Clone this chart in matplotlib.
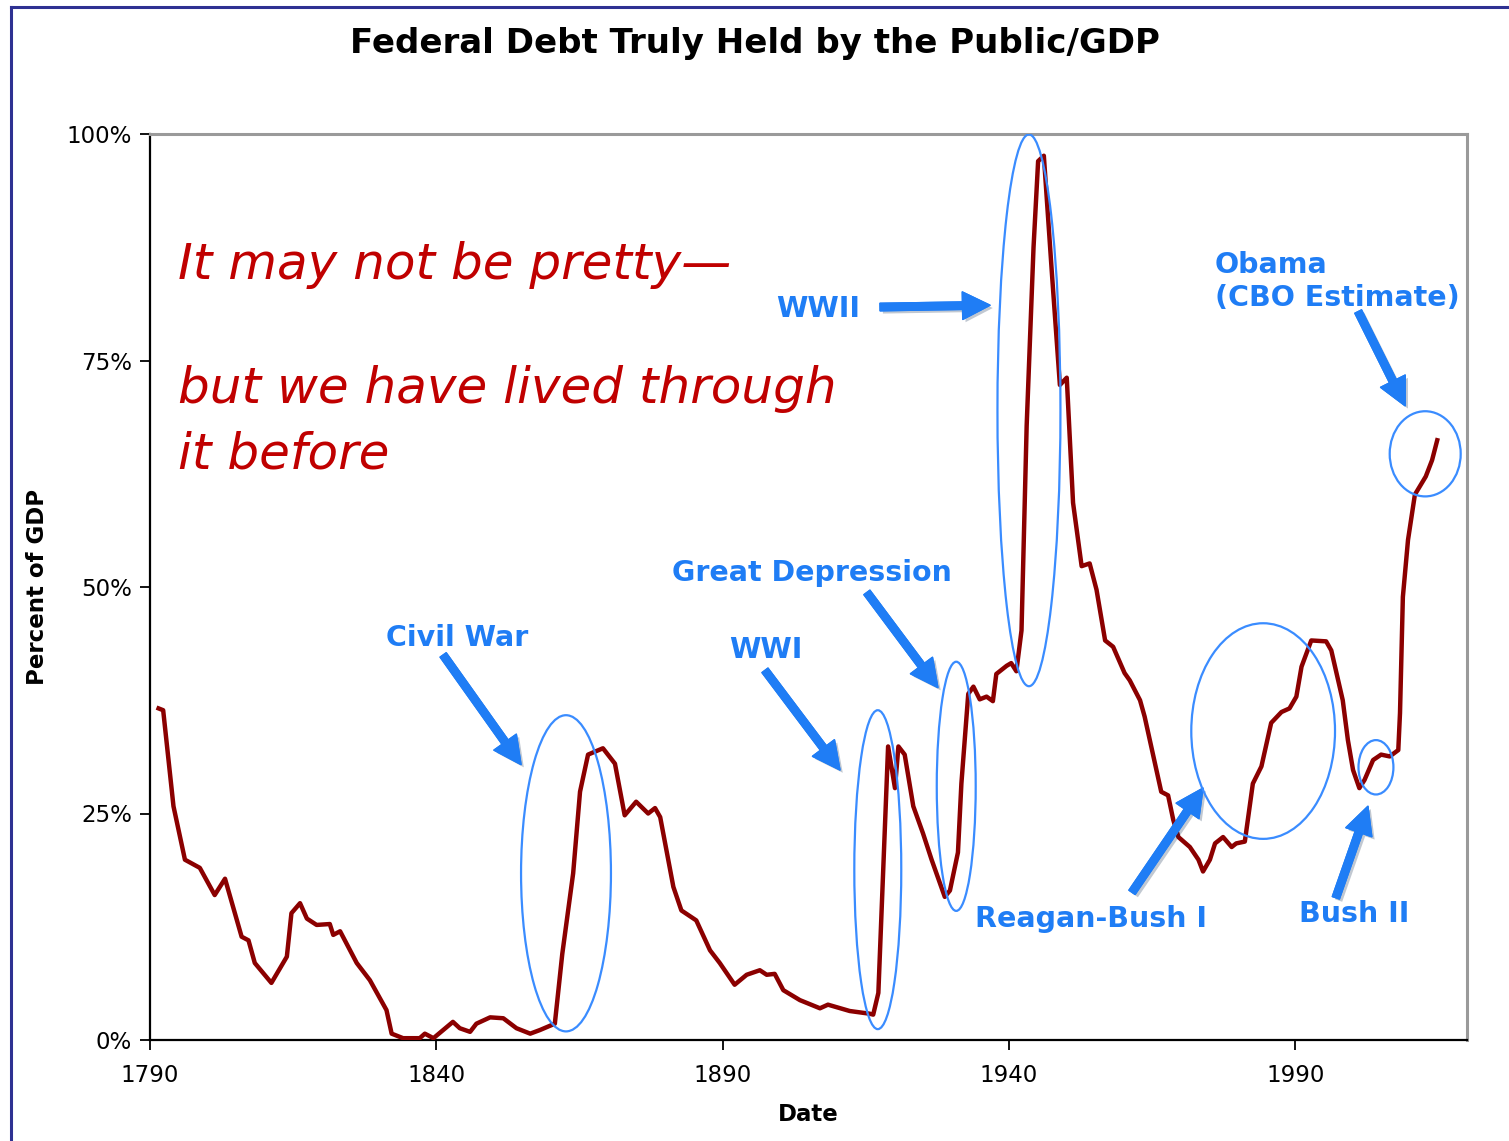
import matplotlib
matplotlib.use("Agg")
import matplotlib.pyplot as plt
import matplotlib.patheffects as pe
from matplotlib.patches import Ellipse
from matplotlib.lines import Line2D

# debt held by the public as % of GDP
years = [
    1791.5, 1792.3, 1794.1, 1796.1, 1798.7, 1801.3, 1803.1, 1806.0, 1807.2, 1808.3,
    1811.2, 1813.9, 1814.7, 1816.2, 1817.4, 1819.1, 1821.4, 1822.0, 1823.2, 1826.1,
    1828.4, 1831.3, 1832.2, 1834.2, 1837.1, 1838.0, 1839.5, 1842.9, 1844.1, 1845.9,
    1847.0, 1849.4, 1851.7, 1854.0, 1856.4, 1858.1, 1860.7, 1862.0, 1863.9, 1865.1,
    1866.5, 1869.1, 1871.2, 1872.9, 1874.9, 1877.0, 1878.2, 1879.1, 1881.4, 1882.8,
    1885.4, 1887.8, 1889.5, 1892.1, 1894.2, 1896.5, 1897.7, 1899.1, 1900.6, 1903.5,
    1907.0, 1908.4, 1912.2, 1915.7, 1916.3, 1917.2, 1918.9, 1920.1, 1920.7, 1921.8,
    1923.3, 1925.0, 1926.5, 1928.8, 1929.7, 1931.1, 1931.7, 1932.9, 1933.8, 1934.9,
    1936.1, 1937.2, 1937.8, 1939.6, 1940.4, 1941.3, 1942.2, 1943.1, 1944.3, 1945.1,
    1946.1, 1947.5, 1948.9, 1950.1, 1951.2, 1952.7, 1954.1, 1955.3, 1956.8, 1958.2,
    1960.2, 1961.1, 1962.9, 1963.7, 1966.6, 1967.8, 1968.7, 1969.6, 1971.6, 1973.1,
    1973.9, 1975.1, 1976.0, 1977.4, 1978.9, 1979.7, 1981.2, 1982.6, 1984.1, 1985.8,
    1987.6, 1989.0, 1990.2, 1991.1, 1992.8, 1995.4, 1996.3, 1998.3, 1999.2, 2000.1,
    2001.2, 2002.1, 2003.6, 2005.0, 2006.5, 2008.0, 2008.3, 2008.8, 2009.7, 2010.9,
    2012.8, 2013.9, 2014.8,
]
debt_pct = [
    36.6, 36.4, 25.8, 19.9, 19.0, 16.0, 17.8, 11.4, 11.0, 8.5,
    6.3, 9.2, 14.0, 15.1, 13.4, 12.7, 12.8, 11.6, 12.0, 8.5,
    6.6, 3.3, 0.7, 0.2, 0.2, 0.7, 0.2, 2.0, 1.3, 0.9,
    1.8, 2.5, 2.4, 1.3, 0.7, 1.1, 1.8, 9.5, 18.4, 27.4,
    31.5, 32.2, 30.5, 24.8, 26.3, 25.0, 25.6, 24.6, 16.9, 14.3,
    13.2, 9.9, 8.5, 6.1, 7.2, 7.7, 7.2, 7.3, 5.5, 4.4,
    3.5, 3.9, 3.2, 2.9, 2.8, 5.2, 32.4, 27.8, 32.4, 31.5,
    25.8, 22.8, 19.9, 15.8, 16.5, 20.7, 28.3, 38.2, 39.0, 37.6,
    37.9, 37.4, 40.4, 41.3, 41.6, 40.7, 45.2, 67.8, 87.5, 97.0,
    97.6, 84.7, 72.3, 73.1, 59.3, 52.3, 52.6, 49.7, 44.1, 43.4,
    40.5, 39.7, 37.5, 35.7, 27.4, 27.0, 24.3, 22.4, 21.3, 19.9,
    18.6, 19.9, 21.7, 22.4, 21.3, 21.7, 21.9, 28.3, 30.2, 35.0,
    36.2, 36.6, 37.9, 41.2, 44.1, 44.0, 43.0, 37.5, 33.1, 29.8,
    27.8, 28.7, 30.9, 31.5, 31.3, 32.0, 36.1, 48.9, 55.2, 60.2,
    62.2, 64.0, 66.2,
]

x_ticks = [1790, 1840, 1890, 1940, 1990]
y_ticks = [0, 25, 50, 75, 100]
y_tick_labels = ["0%", "25%", "50%", "75%", "100%"]

# episode labels: text, text anchor, arrow tail, arrow head, ellipse (cx, cy, w, h)
episodes = [
    ("Civil War", (1831.2, 44.4), (1841.2, 42.5), (1854.8, 30.4), (1862.65, 18.4, 15.7, 34.9)),
    ("WWI", (1891.1, 43.0), (1897.4, 40.8), (1910.5, 29.8), (1917.1, 18.8, 8.2, 35.2)),
    ("Great Depression", (1881.2, 51.5), (1915.2, 49.4), (1927.6, 38.9), (1930.8, 28.0, 6.8, 27.5)),
    ("WWII", (1899.3, 80.7), (1917.5, 80.9), (1936.7, 81.1), (1943.5, 69.5, 11.0, 60.9)),
    ("Reagan-Bush I", (1934.1, 13.4), (1961.5, 16.3), (1973.9, 27.8), (1984.4, 34.1, 25.1, 23.8)),
    ("Bush II", (1990.7, 13.9), (1997.1, 15.7), (2002.7, 25.8), (2004.1, 30.1, 6.1, 6.0)),
    ("Obama\n(CBO Estimate)", (1976.0, 83.7), (2001.0, 80.4), (2009.2, 70.0), (2012.7, 64.7, 12.4, 9.4)),
]

# handwritten note, one entry per line (left x, baseline y)
note_lines = [
    ("It may not be pretty\u2014", (1794.9, 84.0)),
    ("but we have lived through", (1794.9, 70.3)),
    ("it before", (1794.9, 63.1)),
]

W, H = 1509, 1141
fig = plt.figure(figsize=(W / 100, H / 100), dpi=100)
fig.patch.set_facecolor("white")

# navy frame along the top and left edges
fig.add_artist(Line2D([11 / W, 11 / W], [0, 1 - 7 / H], color="#2e3192", lw=2.2))
fig.add_artist(Line2D([11 / W, 1], [1 - 7 / H, 1 - 7 / H], color="#2e3192", lw=2.2))

ax = fig.add_axes([150 / W, 101 / H, 1317 / W, 906 / H])
ax.set_xlim(1790, 2020)
ax.set_ylim(0, 100)

ax.plot(years, debt_pct, color="#8b0000", lw=3.2, solid_joinstyle="round", zorder=3)

ax.set_xticks(x_ticks)
ax.set_yticks(y_ticks)
ax.set_yticklabels(y_tick_labels)
ax.tick_params(axis="both", direction="out", length=7, width=1.3, labelsize=16.5,
               colors="black", pad=6)
ax.tick_params(axis="x", pad=10)
for side in ["left", "bottom"]:
    ax.spines[side].set_linewidth(1.6)
    ax.spines[side].set_color("black")
for side in ["top", "right"]:
    ax.spines[side].set_linewidth(2.2)
    ax.spines[side].set_color("#9a9a9a")

ax.set_xlabel("Date", fontsize=16.5, fontweight="bold", labelpad=12)
ax.set_ylabel("Percent of GDP", fontsize=16.5, fontweight="bold")
ax.yaxis.set_label_coords(-0.077, 0.5)

fig.text(0.5, 1 - 43 / H, "Federal Debt Truly Held by the Public/GDP",
         ha="center", va="center", fontsize=24.5, fontweight="bold")

blue = "#1f7df5"
shadow = [pe.withSimplePatchShadow(offset=(2, -2), alpha=0.25), pe.Normal()]
for label, txt_xy, tail, head, (cx, cy, w, h) in episodes:
    ax.text(txt_xy[0], txt_xy[1], label, color=blue, fontsize=20.5, fontweight="bold",
            ha="left", va="center", linespacing=1.25, zorder=5)
    ax.annotate("", xy=head, xytext=tail,
                arrowprops=dict(arrowstyle="simple,head_length=1.1,head_width=1.1,tail_width=0.3",
                                color=blue, mutation_scale=18, shrinkA=0, shrinkB=0,
                                path_effects=shadow),
                zorder=4)
    ax.add_patch(Ellipse((cx, cy), w, h, fill=False, ec="#3a8cff", lw=1.6, zorder=4))

red = "#c00000"
for line, (lx, ly) in note_lines:
    ax.text(lx, ly, line, color=red, fontsize=36, style="oblique",
            ha="left", va="baseline")

fig.savefig("out.png", dpi=100, facecolor="white")
